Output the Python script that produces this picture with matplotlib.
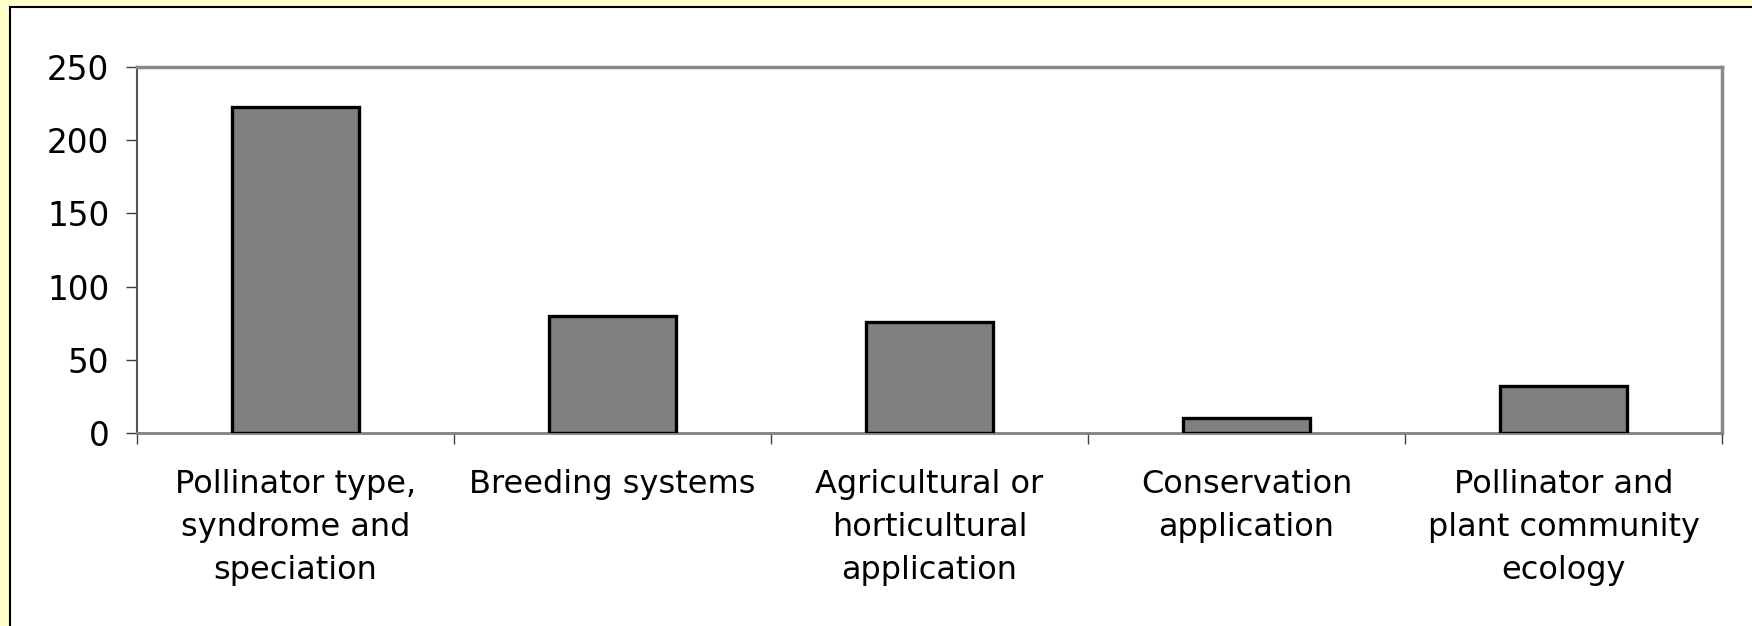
import matplotlib.pyplot as plt
from matplotlib.patches import Rectangle
import numpy as np

categories = [
    'Pollinator type,\nsyndrome and\nspeciation',
    'Breeding systems',
    'Agricultural or\nhorticultural\napplication',
    'Conservation\napplication',
    'Pollinator and\nplant community\necology',
]
counts = [223, 80, 76, 10, 32]
y_ticks = [0, 50, 100, 150, 200, 250]

plt.rcParams['font.family'] = 'DejaVu Sans'

fig = plt.figure(figsize=(17.52, 6.26), dpi=100)
fig.patch.set_facecolor('#ffffcc')

# white panel with black line on top and left
fig.patches.append(Rectangle((10 / 1752, -0.1), 1.1, 1.1 - 7 / 626,
                             transform=fig.transFigure, facecolor='white',
                             edgecolor='black', linewidth=1.5, zorder=-5))

ax = fig.add_axes([137 / 1752, 1 - 433 / 626, (1722 - 137) / 1752, (433 - 67) / 626])
ax.set_facecolor('white')

x = np.arange(len(categories))
ax.bar(x, counts, width=0.4, color='#808080', edgecolor='black', linewidth=2.4, zorder=3)

ax.set_xlim(-0.5, len(categories) - 0.5)
ax.set_ylim(0, 250)
ax.set_yticks(y_ticks)
ax.tick_params(axis='y', labelsize=23.5, length=8, width=1, color='#404040', pad=12)

ax.set_xticks(x)
ax.set_xticklabels(categories, fontsize=23, linespacing=1.5)
ax.tick_params(axis='x', which='major', length=0, pad=26)
ax.set_xticks(np.arange(len(categories) + 1) - 0.5, minor=True)
ax.tick_params(axis='x', which='minor', length=8, width=1, color='#404040')

ax.spines['left'].set_color('#555555')
ax.spines['left'].set_linewidth(1.5)
ax.spines['bottom'].set_color('#808080')
ax.spines['bottom'].set_linewidth(2)
for s in ['top', 'right']:
    ax.spines[s].set_color('#888888')
    ax.spines[s].set_linewidth(2.5)

fig.savefig('out.png', dpi=100)
